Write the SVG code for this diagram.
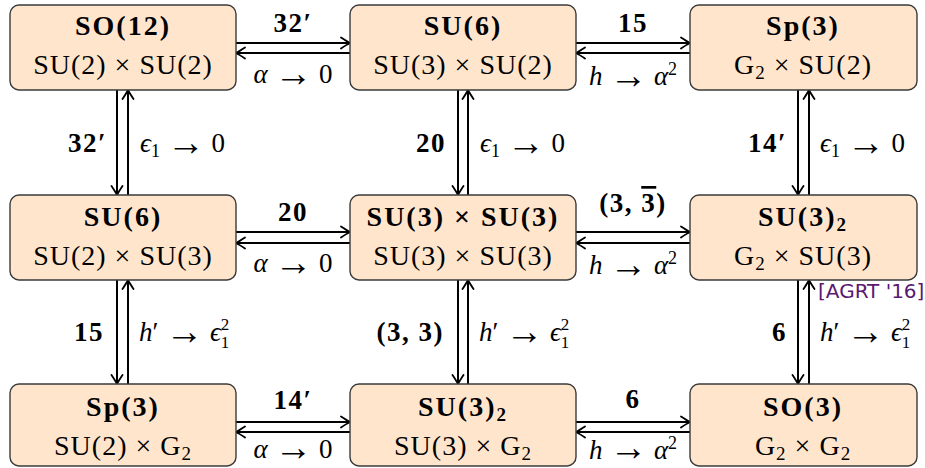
<svg xmlns="http://www.w3.org/2000/svg" width="925" height="468" viewBox="0 0 925 468">
<style>
.node rect { fill:#ffe5cc; stroke:#3a3a3a; stroke-width:1.4; }
.t { font-family:"Liberation Serif","DejaVu Serif",serif; font-size:28px; fill:#000; text-anchor:middle; letter-spacing:1px; }
.t.b { font-weight:bold; letter-spacing:2px; }
.l { font-family:"Liberation Serif","DejaVu Serif",serif; font-size:27px; fill:#000; }
.l.b { font-weight:bold; letter-spacing:1.5px; font-size:27px; }
.mid { text-anchor:middle; }
.end { text-anchor:end; }
.i { font-style:italic; }
.ar { font-family:"Liberation Serif",serif; font-size:38px; }
.conn line { stroke:#000; stroke-width:2; marker-end:url(#ah); }
.ref { font-family:"DejaVu Sans","Liberation Sans",sans-serif; font-size:20px; fill:#5a1870; }
</style>
<defs>
<marker id="ah" viewBox="-11 -7 13 14" refX="0" refY="0" markerWidth="13" markerHeight="14" markerUnits="userSpaceOnUse" orient="auto">
<path d="M-9,-5.5 Q-3,-1.5 0,0 Q-3,1.5 -9,5.5" fill="none" stroke="#000" stroke-width="1.8" stroke-linecap="round"/>
</marker>
</defs>

<g id="connectors" class="conn">
<line x1="236" y1="43" x2="350" y2="43"/>
<line x1="350" y1="53" x2="236" y2="53"/>
<line x1="576" y1="43" x2="690" y2="43"/>
<line x1="690" y1="53" x2="576" y2="53"/>
<line x1="236" y1="232" x2="350" y2="232"/>
<line x1="350" y1="243" x2="236" y2="243"/>
<line x1="576" y1="232" x2="690" y2="232"/>
<line x1="690" y1="243" x2="576" y2="243"/>
<line x1="236" y1="422" x2="350" y2="422"/>
<line x1="350" y1="432" x2="236" y2="432"/>
<line x1="576" y1="422" x2="690" y2="422"/>
<line x1="690" y1="432" x2="576" y2="432"/>
<line x1="117" y1="90" x2="117" y2="195"/>
<line x1="128" y1="195" x2="128" y2="90"/>
<line x1="458" y1="90" x2="458" y2="195"/>
<line x1="468" y1="195" x2="468" y2="90"/>
<line x1="798" y1="90" x2="798" y2="195"/>
<line x1="809" y1="195" x2="809" y2="90"/>
<line x1="117" y1="280" x2="117" y2="384"/>
<line x1="128" y1="384" x2="128" y2="280"/>
<line x1="458" y1="280" x2="458" y2="384"/>
<line x1="468" y1="384" x2="468" y2="280"/>
<line x1="798" y1="280" x2="798" y2="384"/>
<line x1="809" y1="384" x2="809" y2="280"/>
</g>

<g id="edge-labels">
<text class="l b mid" x="293" y="32">32′</text>
<text class="l mid" x="293" y="83"><tspan class="i">α</tspan> <tspan class="ar" dy="3">→</tspan><tspan dy="-3"> 0</tspan></text>
<text class="l b mid" x="633" y="32">15</text>
<text class="l mid" x="633" y="85"><tspan class="i">h</tspan> <tspan class="ar" dy="3">→</tspan><tspan dy="-3"> </tspan><tspan class="i">α</tspan><tspan font-size="18" dy="-10">2</tspan></text>

<text class="l b mid" x="293" y="221">20</text>
<text class="l mid" x="293" y="272"><tspan class="i">α</tspan> <tspan class="ar" dy="3">→</tspan><tspan dy="-3"> 0</tspan></text>
<text class="l b mid" x="633" y="212">(3, <tspan text-decoration="overline">3</tspan>)</text>
<text class="l mid" x="633" y="274"><tspan class="i">h</tspan> <tspan class="ar" dy="3">→</tspan><tspan dy="-3"> </tspan><tspan class="i">α</tspan><tspan font-size="18" dy="-10">2</tspan></text>

<text class="l b mid" x="293" y="409">14′</text>
<text class="l mid" x="293" y="458"><tspan class="i">α</tspan> <tspan class="ar" dy="2">→</tspan><tspan dy="-2"> 0</tspan></text>
<text class="l b mid" x="633" y="408">6</text>
<text class="l mid" x="633" y="459"><tspan class="i">h</tspan> <tspan class="ar" dy="1">→</tspan><tspan dy="-1"> </tspan><tspan class="i">α</tspan><tspan font-size="18" dy="-10">2</tspan></text>

<text class="l b end" x="107" y="152">32′</text>
<text class="l" x="140" y="152"><tspan class="i">ϵ</tspan><tspan font-size="18" dy="5">1</tspan><tspan dy="-2"> </tspan><tspan class="ar">→</tspan><tspan dy="-3"> 0</tspan></text>
<text class="l b end" x="446" y="152">20</text>
<text class="l" x="480" y="152"><tspan class="i">ϵ</tspan><tspan font-size="18" dy="5">1</tspan><tspan dy="-2"> </tspan><tspan class="ar">→</tspan><tspan dy="-3"> 0</tspan></text>
<text class="l b end" x="787" y="152">14′</text>
<text class="l" x="820" y="152"><tspan class="i">ϵ</tspan><tspan font-size="18" dy="5">1</tspan><tspan dy="-2"> </tspan><tspan class="ar">→</tspan><tspan dy="-3"> 0</tspan></text>

<text class="l b end" x="104" y="341">15</text>
<text class="l" x="139" y="341"><tspan class="i">h</tspan>′ <tspan class="ar" dy="3">→</tspan><tspan dy="-3"> </tspan><tspan class="i">ϵ</tspan><tspan font-size="17" dy="-11">2</tspan><tspan font-size="17" dx="-8.5" dy="18">1</tspan></text>
<text class="l b end" x="444" y="341">(3, 3)</text>
<text class="l" x="479" y="341"><tspan class="i">h</tspan>′ <tspan class="ar" dy="3">→</tspan><tspan dy="-3"> </tspan><tspan class="i">ϵ</tspan><tspan font-size="17" dy="-11">2</tspan><tspan font-size="17" dx="-8.5" dy="18">1</tspan></text>
<text class="l b end" x="787" y="341">6</text>
<text class="l" x="820" y="341"><tspan class="i">h</tspan>′ <tspan class="ar" dy="3">→</tspan><tspan dy="-3"> </tspan><tspan class="i">ϵ</tspan><tspan font-size="17" dy="-11">2</tspan><tspan font-size="17" dx="-8.5" dy="18">1</tspan></text>

<text class="ref" x="818" y="298">[AGRT '16]</text>
</g>

<g id="n-so12" class="node">
<rect x="10" y="5" width="226" height="85" rx="9"/>
<text class="t b" x="123" y="35">SO(12)</text>
<text class="t" x="123" y="74">SU(2) × SU(2)</text>
</g>
<g id="n-su6-a" class="node">
<rect x="350" y="5" width="226" height="85" rx="9"/>
<text class="t b" x="463" y="35">SU(6)</text>
<text class="t" x="463" y="74">SU(3) × SU(2)</text>
</g>
<g id="n-sp3-a" class="node">
<rect x="690" y="5" width="227" height="85" rx="9"/>
<text class="t b" x="803" y="35">Sp(3)</text>
<text class="t" x="803" y="74">G<tspan font-size="19" dy="5">2</tspan><tspan dy="-5"> × SU(2)</tspan></text>
</g>

<g id="n-su6-b" class="node">
<rect x="10" y="195" width="226" height="85" rx="9"/>
<text class="t b" x="123" y="226">SU(6)</text>
<text class="t" x="123" y="265">SU(2) × SU(3)</text>
</g>
<g id="n-su3su3" class="node">
<rect x="350" y="195" width="226" height="85" rx="9"/>
<text class="t b" x="463" y="226">SU(3) × SU(3)</text>
<text class="t" x="463" y="265">SU(3) × SU(3)</text>
</g>
<g id="n-su3-2-a" class="node">
<rect x="690" y="195" width="227" height="85" rx="9"/>
<text class="t b" x="803" y="226">SU(3)<tspan font-size="19" dy="5">2</tspan></text>
<text class="t" x="803" y="265">G<tspan font-size="19" dy="5">2</tspan><tspan dy="-5"> × SU(3)</tspan></text>
</g>

<g id="n-sp3-b" class="node">
<rect x="10" y="384" width="226" height="82" rx="9"/>
<text class="t b" x="123" y="416">Sp(3)</text>
<text class="t" x="123" y="455">SU(2) × G<tspan font-size="19" dy="5">2</tspan></text>
</g>
<g id="n-su3-2-b" class="node">
<rect x="350" y="384" width="226" height="82" rx="9"/>
<text class="t b" x="463" y="416">SU(3)<tspan font-size="19" dy="5">2</tspan></text>
<text class="t" x="463" y="455">SU(3) × G<tspan font-size="19" dy="5">2</tspan></text>
</g>
<g id="n-so3" class="node">
<rect x="690" y="384" width="227" height="82" rx="9"/>
<text class="t b" x="803" y="416">SO(3)</text>
<text class="t" x="803" y="455">G<tspan font-size="19" dy="5">2</tspan><tspan dy="-5"> × G</tspan><tspan font-size="19" dy="5">2</tspan></text>
</g>
</svg>
